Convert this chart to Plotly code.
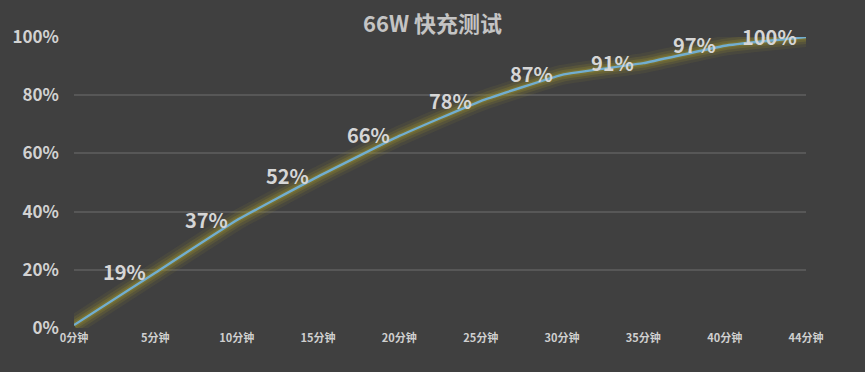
import plotly.graph_objects as go

categories = ["0分钟", "5分钟", "10分钟", "15分钟", "20分钟", "25分钟", "30分钟", "35分钟", "40分钟", "44分钟"]
charge = [1, 19, 37, 52, 66, 78, 87, 91, 97, 100]
labels = ["", "19%", "37%", "52%", "66%", "78%", "87%", "91%", "97%", "100%"]
y_ticks = [0, 20, 40, 60, 80, 100]
y_tick_text = ["0%", "20%", "40%", "60%", "80%", "100%"]

font_family = "Noto Sans CJK SC, Noto Sans, sans-serif"

fig = go.Figure()
# glow layers
for w, a in [(20, 0.10), (14, 0.16), (9, 0.24), (5, 0.30)]:
    fig.add_trace(go.Scatter(
        x=categories, y=charge, mode="lines",
        line=dict(color=f"rgba(160,150,45,{a})", width=w, shape="spline", smoothing=0.3),
        hoverinfo="skip", showlegend=False, cliponaxis=False))
fig.add_trace(go.Scatter(
    x=categories, y=charge, mode="lines",
    line=dict(color="#72aed0", width=2.4, shape="spline", smoothing=0.3),
    cliponaxis=False, showlegend=False))

for c, v, t in zip(categories, charge, labels):
    if t:
        fig.add_annotation(x=c, y=v, text=t, showarrow=False, xanchor="right", yanchor="middle",
                           xshift=-7, yshift=1,
                           font=dict(family=font_family, size=20, color="#d6d6d6", weight="bold"))

fig.update_layout(
    width=865, height=372,
    paper_bgcolor="#404040", plot_bgcolor="#404040",
    margin=dict(l=74, r=59, t=37, b=44),
    title=dict(text="66W 快充测试", x=0.5, xanchor="center", y=0.935, yanchor="middle",
               font=dict(family=font_family, size=22, color="#c4c4c4", weight="bold")),
    xaxis=dict(type="category", range=[0, 9], showgrid=False, zeroline=False, showline=False,
               tickfont=dict(family=font_family, size=11, color="#cfcfcf", weight="bold"),
               ticklen=0, ticklabelstandoff=2),
    yaxis=dict(range=[0, 100], tickvals=y_ticks, ticktext=y_tick_text,
               showgrid=True, gridcolor="#575757", gridwidth=1.5, zeroline=False, showline=False,
               tickfont=dict(family=font_family, size=17, color="#d2d2d2", weight="bold"),
               ticklen=0, ticklabelstandoff=14),
)
fig.write_html("out.html", config={"displayModeBar": False},
               post_script="document.body.style.margin='0';document.body.style.overflow='hidden';")
